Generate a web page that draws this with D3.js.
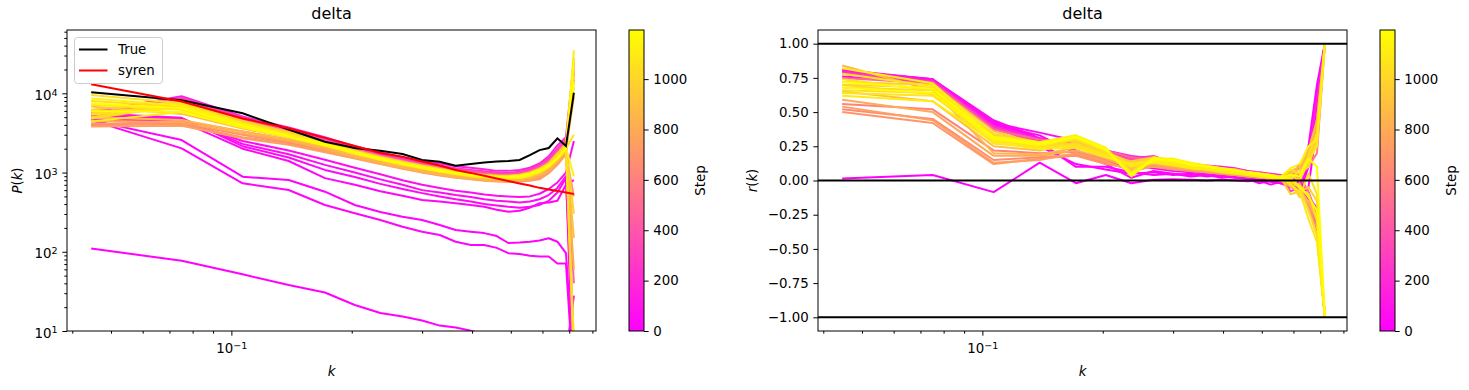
<!DOCTYPE html>
<html><head><meta charset="utf-8">
<script src="https://cdn.jsdelivr.net/npm/d3@7"></script>
<style>body{margin:0;background:#fff} svg{display:block} text{font-family:"DejaVu Sans",sans-serif;fill:#000}</style>
</head><body><svg id="c" width="1469" height="390"></svg>
<script>
// ---------------- data ----------------
const kValues = [0.0446,0.0751,0.1067,0.1391,0.1714,0.2036,0.2358,0.268,0.300,0.332,0.364,0.397,0.429,0.461,0.493,0.526,0.558,0.590,0.622,0.654,0.687,0.719];
const pkTrue  = [10300,8200,5600,3500,2450,2040,1890,1715,1440,1370,1220,1280,1340,1380,1400,1440,1660,1920,2040,2700,2160,10170];
const pkSyren = [13000,7890,4810,3630,2740,2160,1770,1580,1380,1230,1075,990,910,840,780,727,686,641,611,585,560,535];
// step of each series (row order of pkSeries / rkSeries)
const steps = [0,10,20,30,40,50,60,150,250,350,480,950,980,1010,1040,1070,1100,600,650,700,750,800,850,900,1020,1050,1080,1130,1160,1190];
const pkSeries = [
 [110,77,52,38,30.6,21.3,16.9,15.2,13.6,11.7,11.1,10.1,9.0,8.5,8.0,7.5,7.0,6.5,6.0,5.5,5.0,28],
 [4590,2570,886,805,573,389,318,277,252,218,188,179,172,158,129,131,134,139,148,134,96,3],
 [4590,2020,731,603,389,306,252,207,179,163,134,122,122,112,96,94,89,87,87,71,71,2],
 [4700,4400,2000,1400,850,700,580,510,450,430,410,390,370,340,320,330,360,410,420,440,700,800],
 [5600,4900,2150,1550,1080,880,720,620,550,500,460,430,400,385,370,360,370,390,440,560,850,5],
 [5200,4800,2300,1700,1250,1000,820,700,600,560,520,490,460,440,430,420,430,460,520,640,900,1.5],
 [4600,4500,2500,1900,1450,1150,950,800,700,640,590,560,530,510,500,490,500,540,620,750,1000,2500],
 [5800,9200,5100,3700,2800,2150,1800,1550,1400,1300,1200,1150,1100,1050,1050,1080,1150,1300,1600,2200,2800,25000],
 [5200,8800,4900,3500,2650,2050,1700,1480,1330,1230,1130,1080,1040,1000,990,1020,1100,1250,1500,2000,2600,6],
 [6000,8500,4800,3400,2550,2000,1650,1420,1280,1180,1100,1040,1000,970,960,980,1050,1200,1400,1900,2500,15000],
 [5500,8200,4600,3300,2500,1950,1620,1400,1250,1150,1060,1000,960,940,930,950,1020,1150,1350,1800,2400,40],
 [6200,7800,4500,3250,2450,1900,1580,1380,1230,1120,1040,980,940,920,910,940,1000,1120,1320,1750,2300,28000],
 [5000,7500,4400,3150,2400,1870,1550,1350,1200,1100,1020,960,920,900,890,910,980,1100,1300,1700,2200,300],
 [5600,7200,4300,3100,2350,1830,1520,1320,1180,1080,1000,950,910,880,870,890,950,1070,1250,1650,2100,12000],
 [4800,7000,4200,3050,2300,1800,1500,1300,1160,1060,980,930,890,870,860,870,930,1050,1230,1600,2050,8],
 [5400,6500,4000,2950,2250,1780,1480,1290,1150,1050,970,920,880,860,850,860,910,1020,1200,1550,2000,3000],
 [4400,5800,3800,2850,2200,1750,1450,1270,1130,1030,960,900,870,850,840,850,900,1000,1180,1500,1950,35000],
 [4000,4500,3300,2600,2050,1720,1440,1250,1120,1030,960,900,870,850,840,850,880,980,1150,1450,1900,20000],
 [3900,4200,3000,2400,1900,1600,1360,1180,1060,970,900,860,830,810,800,810,830,900,1050,1350,1800,5],
 [4200,4000,2800,2300,1850,1560,1320,1150,1030,950,880,840,810,790,780,790,800,850,1000,1300,1750,500],
 [3800,3900,2700,2250,1800,1500,1280,1120,1000,920,860,820,790,770,760,770,790,820,980,1250,1700,18000],
 [4500,4300,3100,2500,1950,1550,1300,1130,1010,930,870,830,800,780,770,780,820,900,1050,1350,1850,60],
 [5000,4600,3300,2600,2050,1600,1350,1170,1040,960,890,850,820,800,790,800,850,940,1100,1400,1900,9000],
 [6800,5500,3600,2750,2150,1700,1420,1230,1100,1010,940,890,860,840,830,850,900,1000,1150,1450,1950,150],
 [8000,6800,4000,2950,2300,1800,1500,1300,1170,1070,990,940,900,880,880,900,960,1060,1220,1500,2000,22000],
 [9500,7500,4200,3050,2350,1850,1550,1340,1200,1100,1010,960,920,900,900,920,980,1080,1250,1550,2100,4],
 [7200,6200,3800,2850,2250,1780,1480,1290,1160,1060,980,930,900,880,880,900,960,1060,1230,1520,2050,16000],
 [8600,7000,4100,3000,2300,1820,1520,1320,1180,1080,1000,950,910,890,890,910,970,1070,1240,1530,2050,900],
 [6000,5800,3700,2800,2200,1750,1460,1270,1140,1040,970,920,890,870,870,890,950,1050,1210,1500,2000,26000],
 [7500,6500,3900,2900,2250,1800,1500,1300,1160,1060,990,940,900,880,880,900,960,1060,1220,1510,2020,14000]
];
const rkSeries = [
 [0.015,0.04,-0.085,0.13,-0.02,0.04,-0.02,0.005,0.01,0.005,0.0,0.005,0.0,-0.005,0.0,-0.01,-0.02,-0.03,-0.02,0.2,0.65,1.0],
 [0.80,0.74,0.40,0.25,0.12,0.08,0.05,0.06,0.04,0.05,0.03,0.04,0.02,0.02,0.01,0.00,-0.02,-0.05,0.00,0.25,0.70,1.0],
 [0.78,0.73,0.42,0.28,0.10,0.10,0.06,0.04,0.05,0.03,0.04,0.02,0.03,0.01,0.00,-0.03,-0.01,-0.04,-0.10,0.10,0.60,1.0],
 [0.76,0.72,0.41,0.33,0.20,0.12,0.02,0.07,0.05,0.04,0.05,0.03,0.02,0.01,-0.02,0.00,-0.02,0.01,-0.12,-0.05,0.40,1.0],
 [0.79,0.73,0.43,0.30,0.22,0.14,0.10,0.09,0.07,0.06,0.05,0.04,0.04,0.03,0.02,0.02,0.01,-0.02,0.05,-0.15,-0.30,-1.0],
 [0.80,0.74,0.44,0.31,0.25,0.18,0.14,0.13,0.10,0.09,0.08,0.06,0.05,0.05,0.04,0.03,0.02,0.0,-0.05,0.12,0.55,1.0],
 [0.81,0.74,0.42,0.35,0.29,0.22,0.18,0.16,0.13,0.11,0.10,0.09,0.08,0.06,0.05,0.04,0.03,0.02,-0.08,-0.12,-0.35,-1.0],
 [0.80,0.73,0.40,0.30,0.26,0.22,0.17,0.17,0.14,0.12,0.11,0.10,0.09,0.07,0.06,0.05,0.04,0.03,0.10,0.18,0.60,1.0],
 [0.79,0.72,0.39,0.29,0.27,0.21,0.16,0.18,0.13,0.12,0.10,0.09,0.08,0.07,0.05,0.04,0.02,-0.08,-0.05,-0.12,-0.20,-1.0],
 [0.78,0.72,0.38,0.28,0.25,0.20,0.15,0.16,0.12,0.11,0.10,0.08,0.07,0.06,0.05,0.04,0.03,0.02,0.12,0.15,0.45,1.0],
 [0.75,0.71,0.37,0.30,0.28,0.22,0.17,0.15,0.14,0.11,0.09,0.08,0.08,0.06,0.06,0.04,0.03,0.00,0.03,-0.08,-0.25,-1.0],
 [0.72,0.70,0.36,0.27,0.26,0.19,0.14,0.17,0.13,0.10,0.10,0.09,0.07,0.05,0.04,0.03,0.01,0.05,0.08,0.12,0.35,1.0],
 [0.70,0.68,0.34,0.28,0.29,0.21,0.13,0.16,0.12,0.11,0.09,0.07,0.07,0.06,0.05,0.03,0.02,-0.10,-0.08,-0.05,-0.15,-1.0],
 [0.68,0.66,0.33,0.26,0.27,0.20,0.12,0.15,0.13,0.10,0.08,0.08,0.06,0.05,0.04,0.03,0.02,0.03,0.06,0.10,0.30,1.0],
 [0.66,0.64,0.32,0.25,0.26,0.19,0.11,0.14,0.12,0.10,0.09,0.07,0.06,0.05,0.04,0.02,0.03,-0.02,-0.12,0.05,-0.10,-1.0],
 [0.64,0.62,0.30,0.24,0.25,0.18,0.10,0.13,0.11,0.09,0.08,0.07,0.06,0.04,0.03,0.02,0.01,0.04,0.00,0.14,0.25,1.0],
 [0.62,0.58,0.28,0.23,0.24,0.17,0.12,0.14,0.12,0.09,0.08,0.06,0.05,0.04,0.03,0.02,0.00,0.02,-0.06,-0.10,-0.28,-1.0],
 [0.56,0.52,0.22,0.20,0.21,0.15,0.10,0.12,0.10,0.08,0.07,0.06,0.05,0.04,0.03,0.02,0.01,0.03,0.04,0.10,0.20,1.0],
 [0.52,0.45,0.15,0.17,0.19,0.13,0.08,0.11,0.09,0.07,0.06,0.05,0.04,0.03,0.02,0.01,0.00,-0.03,-0.10,-0.18,-0.35,-1.0],
 [0.50,0.42,0.12,0.16,0.18,0.12,0.09,0.10,0.08,0.07,0.06,0.05,0.04,0.03,0.02,0.01,0.00,0.05,0.02,0.15,0.30,1.0],
 [0.54,0.44,0.13,0.15,0.20,0.14,0.07,0.10,0.09,0.08,0.06,0.05,0.04,0.03,0.03,0.02,0.01,-0.05,-0.02,-0.20,-0.40,-1.0],
 [0.59,0.50,0.18,0.18,0.22,0.16,0.09,0.12,0.10,0.08,0.07,0.06,0.05,0.04,0.03,0.02,0.02,0.06,0.08,0.20,0.40,1.0],
 [0.84,0.66,0.20,0.19,0.24,0.17,0.10,0.13,0.11,0.09,0.07,0.06,0.05,0.04,0.03,0.02,0.00,-0.04,-0.09,-0.15,-0.30,-1.0],
 [0.65,0.58,0.25,0.22,0.28,0.19,0.08,0.14,0.13,0.10,0.08,0.07,0.06,0.05,0.04,0.03,0.02,0.07,0.10,0.22,0.44,1.0],
 [0.70,0.63,0.27,0.24,0.30,0.21,0.05,0.15,0.14,0.11,0.09,0.08,0.07,0.05,0.04,0.03,0.01,-0.01,-0.05,-0.22,-0.40,-1.0],
 [0.74,0.66,0.29,0.25,0.32,0.22,0.04,0.16,0.15,0.12,0.10,0.08,0.07,0.06,0.05,0.03,0.02,0.08,0.05,0.18,0.35,1.0],
 [0.78,0.69,0.31,0.27,0.33,0.23,0.06,0.17,0.15,0.12,0.10,0.09,0.07,0.06,0.05,0.04,0.02,-0.03,-0.08,-0.28,-0.45,-1.0],
 [0.82,0.71,0.32,0.28,0.33,0.24,0.03,0.16,0.16,0.13,0.11,0.09,0.08,0.06,0.05,0.04,0.03,0.09,0.12,0.25,0.30,1.0],
 [0.68,0.64,0.30,0.26,0.31,0.22,0.05,0.15,0.14,0.11,0.10,0.08,0.07,0.06,0.04,0.03,0.02,0.01,-0.04,-0.12,-0.22,-1.0],
 [0.72,0.67,0.31,0.27,0.32,0.23,0.04,0.16,0.15,0.12,0.10,0.09,0.07,0.06,0.05,0.04,0.02,0.04,0.03,0.16,0.10,-1.0]
];
const refLines = [1, 0, -1];
const xMajorTicks = [0.1];
const xMinorTicks = [0.04,0.05,0.06,0.07,0.08,0.09,0.2,0.3,0.4,0.5,0.6,0.7,0.8];
const yLogMajorTicks = [10,100,1000,10000];
const yLogMinorTicks = [20,30,40,50,60,70,80,90,200,300,400,500,600,700,800,900,2000,3000,4000,5000,6000,7000,8000,9000,20000,30000,40000,50000,60000];
const rTicks = [-1,-0.75,-0.5,-0.25,0,0.25,0.5,0.75,1];
const cbTicks = [0,200,400,600,800,1000];
const cbMax = 1195;
const xDomain = [0.0388, 0.8167];
const pDomain = [10, 63000];
const rDomain = [-1.1, 1.1];

// ---------------- drawing ----------------
const svg = d3.select("#c");
const FS = 13.33;
const yTop = 30, yBot = 331;
const stepColor = s => { const t = Math.max(0, Math.min(1, s / cbMax)); return d3.rgb(255, 255*t, 255*(1-t)).toString(); };
const drawOrder = d3.range(steps.length).sort((a,b)=>steps[a]-steps[b]);

const defs = svg.append("defs");
const grad = defs.append("linearGradient").attr("id","spring").attr("x1",0).attr("y1",1).attr("x2",0).attr("y2",0);
grad.append("stop").attr("offset","0%").attr("stop-color","#ff00ff");
grad.append("stop").attr("offset","100%").attr("stop-color","#ffff00");

function supText(sel, base, exp) {
  sel.text(null);
  sel.append("tspan").text(base);
  sel.append("tspan").attr("dy","-0.45em").attr("font-size", (FS*0.72)+"px").text(exp);
}

function makePanel(id, x0, x1, yScale, isLog) {
  const x = d3.scaleLog().domain(xDomain).range([x0, x1]);
  defs.append("clipPath").attr("id","clip"+id).append("rect")
    .attr("x",x0).attr("y",yTop).attr("width",x1-x0).attr("height",yBot-yTop);
  const g = svg.append("g");
  const plot = g.append("g").attr("clip-path","url(#clip"+id+")");
  const xa = g.append("g").attr("transform",`translate(0,${yBot})`)
    .call(d3.axisBottom(x).tickValues(xMajorTicks).tickSize(4.67).tickSizeOuter(0).tickPadding(4.67).tickFormat(()=>""));
  xa.select(".domain").remove();
  xa.selectAll(".tick text").attr("font-size",FS+"px").attr("dy","0.95em").each(function(){ supText(d3.select(this),"10","\u22121"); });
  const xm = g.append("g").attr("transform",`translate(0,${yBot})`)
    .call(d3.axisBottom(x).tickValues(xMinorTicks).tickSize(2.67).tickSizeOuter(0).tickFormat(()=>""));
  xm.select(".domain").remove();
  if (isLog) {
    const ya = g.append("g").attr("transform",`translate(${x0},0)`)
      .call(d3.axisLeft(yScale).tickValues(yLogMajorTicks).tickSize(4.67).tickSizeOuter(0).tickPadding(4.67).tickFormat(()=>""));
    ya.select(".domain").remove();
    ya.selectAll(".tick text").attr("font-size",FS+"px").attr("dy","0.45em").each(function(d){ supText(d3.select(this),"10",String(Math.round(Math.log10(d)))); });
    const ym = g.append("g").attr("transform",`translate(${x0},0)`)
      .call(d3.axisLeft(yScale).tickValues(yLogMinorTicks.filter(v=>v<=pDomain[1])).tickSize(2.67).tickSizeOuter(0).tickFormat(()=>""));
    ym.select(".domain").remove();
  } else {
    const ya = g.append("g").attr("transform",`translate(${x0},0)`)
      .call(d3.axisLeft(yScale).tickValues(rTicks).tickSize(4.67).tickSizeOuter(0).tickPadding(4.67).tickFormat(d3.format(".2f")));
    ya.select(".domain").remove();
    ya.selectAll(".tick text").attr("font-size",FS+"px");
  }
  g.selectAll(".tick line").attr("stroke","#000").attr("stroke-width",1);
  g.selectAll(".tick text").attr("font-family","DejaVu Sans").attr("fill","#000");
  return {x, g, plot};
}

function frame(x0, x1) {
  svg.append("rect").attr("x",x0).attr("y",yTop).attr("width",x1-x0).attr("height",yBot-yTop)
    .attr("fill","none").attr("stroke","#000").attr("stroke-width",1);
}

function colorbar(cx, labelX) {
  const w = 15;
  const s = d3.scaleLinear().domain([0, cbMax]).range([yBot, yTop]);
  svg.append("rect").attr("x",cx).attr("y",yTop).attr("width",w).attr("height",yBot-yTop).attr("fill","url(#spring)");
  const a = svg.append("g").attr("transform",`translate(${cx+w},0)`)
    .call(d3.axisRight(s).tickValues(cbTicks).tickSize(4.67).tickSizeOuter(0).tickPadding(4.67).tickFormat(d3.format("d")));
  a.select(".domain").remove();
  a.selectAll(".tick line").attr("stroke","#000");
  a.selectAll(".tick text").attr("font-size",FS+"px").attr("font-family","DejaVu Sans").attr("fill","#000");
  svg.append("rect").attr("x",cx).attr("y",yTop).attr("width",w).attr("height",yBot-yTop)
    .attr("fill","none").attr("stroke","#000").attr("stroke-width",1);
  svg.append("text").attr("transform",`translate(${labelX},${(yTop+yBot)/2}) rotate(-90)`)
    .attr("text-anchor","middle").attr("font-size",FS+"px").text("Step");
}

function mathLabel(sel, v) {
  sel.append("tspan").attr("font-style","italic").text(v);
  sel.append("tspan").text("(");
  sel.append("tspan").attr("font-style","italic").text("k");
  sel.append("tspan").text(")");
}

// ---- left panel ----
const L0 = 67, L1 = 596;
const yP = d3.scaleLog().domain(pDomain).range([yBot, yTop]);
const left = makePanel("L", L0, L1, yP, true);
const lineP = d3.line().x((d,i)=>left.x(kValues[i])).y(d=>yP(Math.max(d,1e-3)));
drawOrder.forEach(j=>{
  left.plot.append("path").attr("d", lineP(pkSeries[j])).attr("fill","none")
    .attr("stroke", stepColor(steps[j])).attr("stroke-width",2).attr("stroke-linejoin","round");
});
left.plot.append("path").attr("d", lineP(pkTrue)).attr("fill","none").attr("stroke","#000").attr("stroke-width",2);
left.plot.append("path").attr("d", lineP(pkSyren)).attr("fill","none").attr("stroke","#ff0000").attr("stroke-width",2);
frame(L0, L1);
const lg = svg.append("g");
lg.append("rect").attr("x",74.5).attr("y",37.5).attr("width",88).attr("height",46).attr("rx",3)
  .attr("fill","#fff").attr("fill-opacity",0.8).attr("stroke","#cccccc");
[["True","#000",49.5],["syren","#ff0000",70.5]].forEach(([t,c,yy])=>{
  lg.append("line").attr("x1",79).attr("x2",107.5).attr("y1",yy).attr("y2",yy).attr("stroke",c).attr("stroke-width",2);
  lg.append("text").attr("x",118).attr("y",yy+4.8).attr("font-size",FS+"px").text(t);
});
svg.append("text").attr("x",(L0+L1)/2).attr("y",18.5).attr("text-anchor","middle").attr("font-size","16px").text("delta");
mathLabel(svg.append("text").attr("transform",`translate(22,${(yTop+yBot)/2}) rotate(-90)`).attr("text-anchor","middle").attr("font-size",FS+"px"), "P");
svg.append("text").attr("x",(L0+L1)/2).attr("y",376).attr("text-anchor","middle").attr("font-size",FS+"px").attr("font-style","italic").text("k");
colorbar(629, 705);

// ---- right panel ----
const R0 = 818, R1 = 1347;
const yR = d3.scaleLinear().domain(rDomain).range([yBot, yTop]);
const right = makePanel("R", R0, R1, yR, false);
const lineR = d3.line().x((d,i)=>right.x(kValues[i])).y(d=>yR(d));
drawOrder.forEach(j=>{
  right.plot.append("path").attr("d", lineR(rkSeries[j])).attr("fill","none")
    .attr("stroke", stepColor(steps[j])).attr("stroke-width",2).attr("stroke-linejoin","round");
});
refLines.forEach(v=>{
  right.plot.append("line").attr("x1",R0).attr("x2",R1).attr("y1",yR(v)).attr("y2",yR(v))
    .attr("stroke","#000").attr("stroke-width",2);
});
frame(R0, R1);
svg.append("text").attr("x",(R0+R1)/2).attr("y",18.5).attr("text-anchor","middle").attr("font-size","16px").text("delta");
mathLabel(svg.append("text").attr("transform",`translate(757,${(yTop+yBot)/2}) rotate(-90)`).attr("text-anchor","middle").attr("font-size",FS+"px"), "r");
svg.append("text").attr("x",(R0+R1)/2).attr("y",376).attr("text-anchor","middle").attr("font-size",FS+"px").attr("font-style","italic").text("k");
colorbar(1380, 1456);
</script></body></html>
